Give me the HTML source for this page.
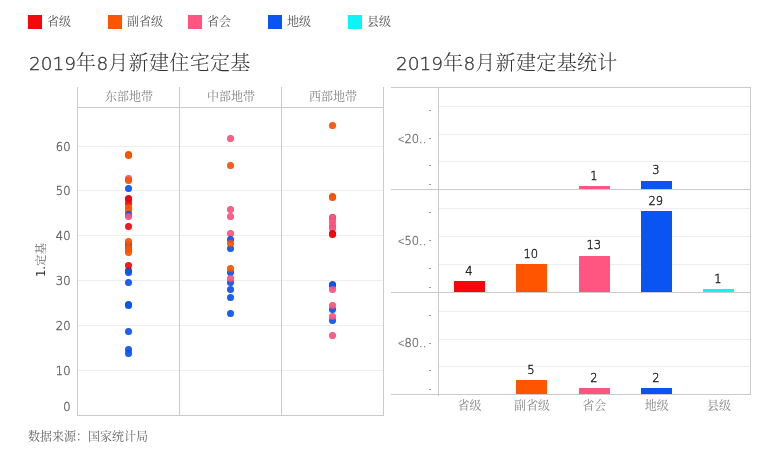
<!DOCTYPE html>
<html lang="zh"><head><meta charset="utf-8"><title>2019年8月新建住宅定基</title>
<style>
html,body{margin:0;padding:0;background:#fff;}
body{width:771px;height:458px;position:relative;overflow:hidden;font-family:"Liberation Sans","Noto Serif CJK SC",sans-serif;}
.a{position:absolute;}
.t{position:absolute;white-space:nowrap;line-height:1;}
.cj{font-family:"Liberation Sans","Noto Serif CJK SC",serif;font-weight:400;}
.lg{font-size:12px;color:#555;}
.sw{position:absolute;width:14px;height:13.5px;top:15px;}
.ttl{font-size:20px;color:#333;top:53px;font-weight:300;letter-spacing:.35px;}
.ttl .n{font-family:"DejaVu Sans","Liberation Sans",sans-serif;font-weight:200;font-size:18.5px;letter-spacing:0;-webkit-text-stroke:.3px #333;}
.hd{font-size:12px;color:#858585;width:102px;text-align:center;top:91px;}
.nm{font-family:"DejaVu Sans","Liberation Sans",sans-serif;font-weight:200;font-size:11.5px;-webkit-text-stroke:.4px currentColor;}
.yl{color:#666;width:40px;text-align:right;left:30.5px;}
.vl{position:absolute;width:1px;background:#cbcbcb;}
.hl{position:absolute;height:1px;background:#cbcbcb;}
.gl{position:absolute;height:1px;background:#eeeeee;}
.d{position:absolute;width:7px;height:7px;border-radius:50%;opacity:.93;box-shadow:inset 0 0 0 .8px rgba(0,0,0,.10);}
.bl{color:#222;width:40px;text-align:center;}
.cl{font-size:12px;color:#888;width:62px;text-align:center;top:400px;}
.bar{position:absolute;}
.tk{position:absolute;width:2px;height:1px;background:#999;left:429px;}
.pl{color:#777;left:398px;}
.pl i{font-style:normal;font-family:"Liberation Sans",sans-serif;font-size:11px;-webkit-text-stroke:0;font-weight:400;}
</style></head><body>

<div class="sw" style="left:28px;background:#f4080c"></div><div class="t cj lg" style="left:47px;top:16px">省级</div>
<div class="sw" style="left:108px;background:#ff5500"></div><div class="t cj lg" style="left:127px;top:16px">副省级</div>
<div class="sw" style="left:188px;background:#ff5580"></div><div class="t cj lg" style="left:207px;top:16px">省会</div>
<div class="sw" style="left:268px;background:#0a55f2"></div><div class="t cj lg" style="left:287px;top:16px">地级</div>
<div class="sw" style="left:348px;background:#0cf4f8"></div><div class="t cj lg" style="left:367px;top:16px">县级</div>
<div class="t cj ttl" style="left:29px"><span class="n">2019</span>年<span class="n">8</span>月新建住宅定基</div>
<div class="t cj ttl" style="left:396px"><span class="n">2019</span>年<span class="n">8</span>月新建定基统计</div>
<div class="gl" style="left:78px;width:305px;top:146px"></div>
<div class="t nm yl" style="top:141.7px">60</div>
<div class="gl" style="left:78px;width:305px;top:190px"></div>
<div class="t nm yl" style="top:185.7px">50</div>
<div class="gl" style="left:78px;width:305px;top:235px"></div>
<div class="t nm yl" style="top:230.7px">40</div>
<div class="gl" style="left:78px;width:305px;top:280px"></div>
<div class="t nm yl" style="top:275.7px">30</div>
<div class="gl" style="left:78px;width:305px;top:325px"></div>
<div class="t nm yl" style="top:320.7px">20</div>
<div class="gl" style="left:78px;width:305px;top:370px"></div>
<div class="t nm yl" style="top:365.7px">10</div>
<div class="t nm yl" style="top:401.7px">0</div>
<div class="vl" style="left:77px;top:87px;height:329px"></div>
<div class="vl" style="left:179px;top:87px;height:329px"></div>
<div class="vl" style="left:281px;top:87px;height:329px"></div>
<div class="vl" style="left:383px;top:87px;height:329px"></div>
<div class="hl" style="left:77px;width:307px;top:107px"></div>
<div class="hl" style="left:77px;width:307px;top:415px"></div>
<div class="t cj hd" style="left:78px">东部地带</div>
<div class="t cj hd" style="left:180px">中部地带</div>
<div class="t cj hd" style="left:282px">西部地带</div>
<div class="t" style="left:41px;top:260px;font-size:12px;color:#666;transform:translate(-50%,-50%) rotate(-90deg);"><span style="color:#333;font-family:DejaVu Sans,Liberation Sans,sans-serif;font-size:11.5px">1.</span><span class="cj" style="font-size:11.5px">定基</span></div>
<div class="d" style="left:124.50px;top:150.80px;background:#ff5500"></div>
<div class="d" style="left:124.50px;top:152.10px;background:#ff5500"></div>
<div class="d" style="left:124.50px;top:175.10px;background:#ff5580"></div>
<div class="d" style="left:124.50px;top:176.50px;background:#ff5500"></div>
<div class="d" style="left:124.50px;top:184.50px;background:#0a55f2"></div>
<div class="d" style="left:124.50px;top:195.00px;background:#f4080c"></div>
<div class="d" style="left:124.50px;top:196.30px;background:#f4080c"></div>
<div class="d" style="left:124.50px;top:199.50px;background:#f4080c"></div>
<div class="d" style="left:124.50px;top:203.50px;background:#ff5500"></div>
<div class="d" style="left:124.50px;top:206.50px;background:#ff5500"></div>
<div class="d" style="left:124.50px;top:210.50px;background:#0a55f2"></div>
<div class="d" style="left:124.50px;top:213.00px;background:#ff5580"></div>
<div class="d" style="left:124.50px;top:222.50px;background:#f4080c"></div>
<div class="d" style="left:124.50px;top:240.50px;background:#0a55f2"></div>
<div class="d" style="left:124.50px;top:238.00px;background:#ff5500"></div>
<div class="d" style="left:124.50px;top:243.50px;background:#ff5500"></div>
<div class="d" style="left:124.50px;top:246.00px;background:#ff5500"></div>
<div class="d" style="left:124.50px;top:249.00px;background:#ff5500"></div>
<div class="d" style="left:124.50px;top:266.50px;background:#0a55f2"></div>
<div class="d" style="left:124.50px;top:268.50px;background:#0a55f2"></div>
<div class="d" style="left:124.50px;top:262.00px;background:#f4080c"></div>
<div class="d" style="left:124.50px;top:278.50px;background:#0a55f2"></div>
<div class="d" style="left:124.50px;top:300.50px;background:#0a55f2"></div>
<div class="d" style="left:124.50px;top:301.50px;background:#0a55f2"></div>
<div class="d" style="left:124.50px;top:327.50px;background:#0a55f2"></div>
<div class="d" style="left:124.50px;top:345.50px;background:#0a55f2"></div>
<div class="d" style="left:124.50px;top:349.50px;background:#0a55f2"></div>
<div class="d" style="left:226.50px;top:134.50px;background:#ff5580"></div>
<div class="d" style="left:226.50px;top:161.50px;background:#ff5500"></div>
<div class="d" style="left:226.50px;top:205.50px;background:#ff5580"></div>
<div class="d" style="left:226.50px;top:212.50px;background:#ff5580"></div>
<div class="d" style="left:226.50px;top:230.20px;background:#ff5580"></div>
<div class="d" style="left:226.50px;top:236.00px;background:#0a55f2"></div>
<div class="d" style="left:226.50px;top:244.50px;background:#0a55f2"></div>
<div class="d" style="left:226.50px;top:239.50px;background:#ff5500"></div>
<div class="d" style="left:226.50px;top:268.50px;background:#0a55f2"></div>
<div class="d" style="left:226.50px;top:265.10px;background:#ff5500"></div>
<div class="d" style="left:226.50px;top:279.00px;background:#0a55f2"></div>
<div class="d" style="left:226.50px;top:274.50px;background:#ff5580"></div>
<div class="d" style="left:226.50px;top:285.90px;background:#0a55f2"></div>
<div class="d" style="left:226.50px;top:293.50px;background:#0a55f2"></div>
<div class="d" style="left:226.50px;top:309.50px;background:#0a55f2"></div>
<div class="d" style="left:328.50px;top:121.50px;background:#ff5500"></div>
<div class="d" style="left:328.50px;top:193.10px;background:#ff5500"></div>
<div class="d" style="left:328.50px;top:193.80px;background:#ff5500"></div>
<div class="d" style="left:328.50px;top:213.50px;background:#ff5580"></div>
<div class="d" style="left:328.50px;top:214.30px;background:#ff5580"></div>
<div class="d" style="left:328.50px;top:217.90px;background:#ff5580"></div>
<div class="d" style="left:328.50px;top:221.80px;background:#ff5580"></div>
<div class="d" style="left:328.50px;top:225.20px;background:#ff5580"></div>
<div class="d" style="left:328.50px;top:229.90px;background:#f4080c"></div>
<div class="d" style="left:328.50px;top:230.50px;background:#f4080c"></div>
<div class="d" style="left:328.50px;top:280.50px;background:#0a55f2"></div>
<div class="d" style="left:328.50px;top:282.00px;background:#0a55f2"></div>
<div class="d" style="left:328.50px;top:286.10px;background:#ff5580"></div>
<div class="d" style="left:328.50px;top:305.50px;background:#0a55f2"></div>
<div class="d" style="left:328.50px;top:301.50px;background:#ff5580"></div>
<div class="d" style="left:328.50px;top:316.50px;background:#0a55f2"></div>
<div class="d" style="left:328.50px;top:312.50px;background:#ff5580"></div>
<div class="d" style="left:328.50px;top:331.50px;background:#ff5580"></div>
<div class="t cj" style="left:28px;top:431px;font-size:12px;color:#666">数据来源：国家统计局</div>
<div class="gl" style="left:439px;width:311px;top:106px"></div>
<div class="tk" style="top:110px"></div>
<div class="gl" style="left:439px;width:311px;top:134px"></div>
<div class="tk" style="top:138px"></div>
<div class="gl" style="left:439px;width:311px;top:161px"></div>
<div class="tk" style="top:165px"></div>
<div class="tk" style="top:184px"></div>
<div class="gl" style="left:439px;width:311px;top:208px"></div>
<div class="tk" style="top:212px"></div>
<div class="gl" style="left:439px;width:311px;top:236px"></div>
<div class="tk" style="top:240px"></div>
<div class="gl" style="left:439px;width:311px;top:264px"></div>
<div class="tk" style="top:268px"></div>
<div class="tk" style="top:287px"></div>
<div class="gl" style="left:439px;width:311px;top:311px"></div>
<div class="tk" style="top:315px"></div>
<div class="gl" style="left:439px;width:311px;top:339px"></div>
<div class="tk" style="top:343px"></div>
<div class="gl" style="left:439px;width:311px;top:366px"></div>
<div class="tk" style="top:370px"></div>
<div class="tk" style="top:389px"></div>
<div class="hl" style="left:391px;width:360px;top:87px"></div>
<div class="hl" style="left:391px;width:360px;top:189px"></div>
<div class="hl" style="left:391px;width:360px;top:292px"></div>
<div class="hl" style="left:391px;width:360px;top:394px"></div>
<div class="vl" style="left:438px;top:87px;height:309px"></div>
<div class="vl" style="left:750px;top:87px;height:308px"></div>
<div class="t nm pl" style="top:133.5px"><i>&lt;</i>20..</div>
<div class="t nm pl" style="top:235.5px"><i>&lt;</i>50..</div>
<div class="t nm pl" style="top:337.5px"><i>&lt;</i>80..</div>
<div class="bar" style="left:579.0px;width:31px;top:186.2px;height:2.8px;background:#ff5580"></div>
<div class="t nm bl" style="left:573.8px;top:171.0px">1</div>
<div class="bar" style="left:641.0px;width:31px;top:180.6px;height:8.4px;background:#0a55f2"></div>
<div class="t nm bl" style="left:635.8px;top:165.4px">3</div>
<div class="bar" style="left:454.0px;width:31px;top:280.8px;height:11.2px;background:#f4080c"></div>
<div class="t nm bl" style="left:448.8px;top:265.6px">4</div>
<div class="bar" style="left:516.0px;width:31px;top:264.0px;height:28.0px;background:#ff5500"></div>
<div class="t nm bl" style="left:510.8px;top:248.8px">10</div>
<div class="bar" style="left:579.0px;width:31px;top:255.6px;height:36.4px;background:#ff5580"></div>
<div class="t nm bl" style="left:573.8px;top:240.4px">13</div>
<div class="bar" style="left:641.0px;width:31px;top:210.8px;height:81.2px;background:#0a55f2"></div>
<div class="t nm bl" style="left:635.8px;top:195.6px">29</div>
<div class="bar" style="left:703.0px;width:31px;top:289.2px;height:2.8px;background:#0cf4f8"></div>
<div class="t nm bl" style="left:697.8px;top:274.0px">1</div>
<div class="bar" style="left:516.0px;width:31px;top:380.0px;height:14.0px;background:#ff5500"></div>
<div class="t nm bl" style="left:510.8px;top:364.8px">5</div>
<div class="bar" style="left:579.0px;width:31px;top:388.4px;height:5.6px;background:#ff5580"></div>
<div class="t nm bl" style="left:573.8px;top:373.2px">2</div>
<div class="bar" style="left:641.0px;width:31px;top:388.4px;height:5.6px;background:#0a55f2"></div>
<div class="t nm bl" style="left:635.8px;top:373.2px">2</div>
<div class="t cj cl" style="left:438.5px">省级</div>
<div class="t cj cl" style="left:500.9px">副省级</div>
<div class="t cj cl" style="left:563.3px">省会</div>
<div class="t cj cl" style="left:625.7px">地级</div>
<div class="t cj cl" style="left:688.1px">县级</div>
</body></html>
